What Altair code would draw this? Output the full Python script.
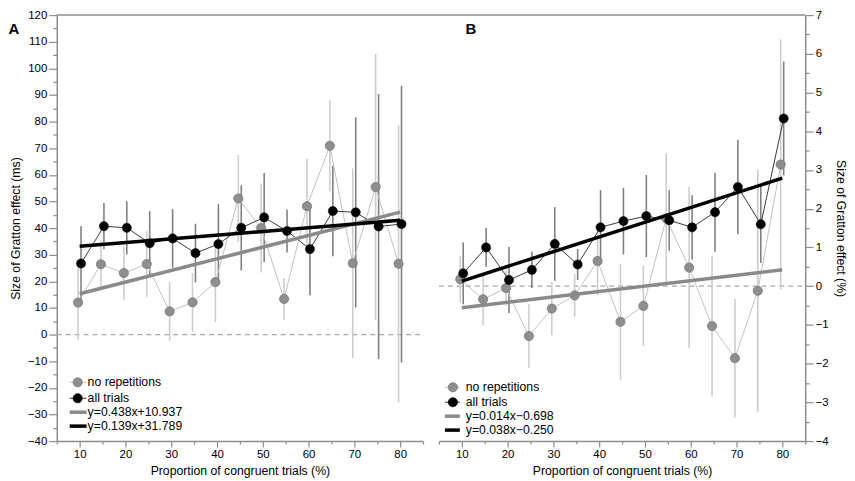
import altair as alt
import pandas as pd

# ---------------- data ----------------
x_vals = [10, 15, 20, 25, 30, 35, 40, 45, 50, 55, 60, 65, 70, 75, 80]

# Panel A (ms)
a_norep_mean = [12.0, 26.4, 23.1, 26.5, 8.7, 12.1, 19.7, 51.1, 40.0, 13.4, 48.2, 70.9, 26.8, 55.4, 26.6]
a_norep_err = [14.0, 9.0, 10.0, 12.3, 11.0, 11.0, 15.0, 16.3, 16.7, 7.8, 17.7, 17.1, 35.6, 50.0, 52.0]
a_all_mean = [26.7, 40.7, 40.1, 34.3, 36.1, 30.6, 34.0, 40.1, 44.0, 38.9, 32.1, 46.4, 45.9, 40.6, 41.5]
a_all_err = [14.0, 8.7, 10.0, 12.0, 11.0, 11.0, 15.0, 16.0, 16.7, 8.1, 17.3, 17.0, 35.7, 49.8, 52.0]

# Panel B (%)
b_norep_mean = [0.18, -0.34, -0.05, -1.29, -0.58, -0.24, 0.65, -0.92, -0.51, 1.75, 0.48, -1.03, -1.86, -0.12, 3.14]
b_norep_err = [0.60, 0.67, 0.45, 0.82, 0.69, 0.55, 0.88, 1.50, 1.04, 1.68, 2.08, 1.82, 1.53, 3.13, 3.23]
b_all_mean = [0.33, 1.00, 0.16, 0.42, 1.09, 0.56, 1.52, 1.68, 1.81, 1.70, 1.52, 1.91, 2.56, 1.60, 4.33]
b_all_err = [0.80, 0.50, 0.85, 0.47, 0.95, 0.40, 0.96, 0.86, 1.06, 0.78, 0.83, 1.02, 1.22, 1.00, 1.47]

# regression lines (slope, intercept) as printed in the legends
a_fit_norep = (0.438, 10.937)
a_fit_all = (0.139, 31.789)
b_fit_norep = (0.014, -0.698)
b_fit_all = (0.038, -0.250)
fit_range = [10, 80]

a_labels = ["no repetitions", "all trials", "y=0.438x+10.937", "y=0.139x+31.789"]
b_labels = ["no repetitions", "all trials", "y=0.014x\u22120.698", "y=0.038x\u22120.250"]

x_ticks = list(range(5, 90, 5))
a_y_ticks = list(range(-40, 125, 5))
b_y_ticks = [v / 2 for v in range(-8, 15)]

# ---------------- styling ----------------
FONT = "Liberation Sans"
W, H, GAP = 368, 428, 16
PT_SIZE = 85
AXIS_COLOR = "#8c8c8c"
GRAY_PT, GRAY_PT_STROKE = "#8e8e8e", "#707070"
GRAY_LINE, GRAY_ERR = "#c2c2c2", "#cdcdcd"
BLACK_LINE, BLACK_ERR = "#3a3a3a", "#808080"
GRAY_FIT, BLACK_FIT = "#8a8a8a", "#000000"
NOREP_DX, ALL_DX = -0.35, 0.3


def series_df(mean, err, dx):
    return pd.DataFrame({
        "x": [v + dx for v in x_vals],
        "y": mean,
        "lo": [m - e for m, e in zip(mean, err)],
        "hi": [m + e for m, e in zip(mean, err)],
    })


def fit_df(fit):
    s, b = fit
    return pd.DataFrame({"x": fit_range, "y": [s * v + b for v in fit_range]})


def x_enc():
    return alt.X(
        "x:Q",
        scale=alt.Scale(domain=[5, 85], nice=False, zero=False),
        axis=alt.Axis(
            values=x_ticks,
            labelExpr="datum.value % 10 == 0 && datum.value >= 10 && datum.value <= 80 ? datum.label : ''",
            tickSize={"condition": {"test": "datum.value % 10 != 0", "value": 3}, "value": 6},
            grid=False, domainColor=AXIS_COLOR, domainWidth=1.5, tickColor=AXIS_COLOR, tickWidth=1.2,
            labelColor="#000000", labelFont=FONT, labelFontSize=11.5, labelPadding=2,
            title="Proportion of congruent trials (%)", titleFont=FONT, titleFontSize=12.3,
            titleFontWeight="normal", titleColor="#000000", titlePadding=4,
        ),
    )


def y_enc(field, domain, ticks, orient, title, fmt, test):
    return alt.Y(
        field,
        type="quantitative",
        scale=alt.Scale(domain=domain, nice=False, zero=False),
        axis=alt.Axis(
            orient=orient, values=ticks, format=fmt,
            labelExpr=f"{test} ? datum.label : ''",
            tickSize={"condition": {"test": f"!({test})", "value": 4}, "value": 8},
            grid=False, domainColor=AXIS_COLOR, domainWidth=1.5, tickColor=AXIS_COLOR, tickWidth=1.2,
            labelColor="#000000", labelFont=FONT, labelFontSize=11.5, labelPadding=2,
            title=title, titleFont=FONT, titleFontSize=12.3, titleFontWeight="normal",
            titleColor="#000000", titlePadding=5,
        ),
    )


def panel(norep_mean, norep_err, all_mean, all_err, fit_norep, fit_all, ydom, yticks,
          orient, ytitle, fmt, test, letter, letter_x, labels, leg, top_line):
    Y = lambda f: y_enc(f, ydom, yticks, orient, ytitle, fmt, test)
    nr = series_df(norep_mean, norep_err, NOREP_DX)
    al = series_df(all_mean, all_err, ALL_DX)
    one = pd.DataFrame({"k": [0]})
    zero = pd.DataFrame({"y": [0]})

    layers = []
    if top_line:
        layers.append(alt.Chart(one).mark_rule(color=AXIS_COLOR, strokeWidth=1.5).encode(
            x=alt.value(0), x2=alt.value(W + GAP + W), y=alt.value(0)))
    layers.append(alt.Chart(zero).mark_rule(color="#a8a8a8", strokeWidth=1.2, strokeDash=[5, 4]).encode(
        y=Y("y"), x=alt.value(0), x2=alt.value(W)))
    layers.append(alt.Chart(nr).mark_rule(color=GRAY_ERR, strokeWidth=1.6).encode(
        x=x_enc(), y=Y("lo"), y2="hi"))
    layers.append(alt.Chart(al).mark_rule(color=BLACK_ERR, strokeWidth=1.6).encode(
        x=x_enc(), y=Y("lo"), y2="hi"))
    layers.append(alt.Chart(nr).mark_line(color=GRAY_LINE, strokeWidth=1).encode(x=x_enc(), y=Y("y")))
    layers.append(alt.Chart(al).mark_line(color=BLACK_LINE, strokeWidth=1).encode(x=x_enc(), y=Y("y")))
    layers.append(alt.Chart(nr).mark_point(shape="circle", filled=True, size=PT_SIZE, fill=GRAY_PT,
                                           stroke=GRAY_PT_STROKE, strokeWidth=0.7, opacity=1).encode(
        x=x_enc(), y=Y("y")))
    layers.append(alt.Chart(fit_df(fit_norep)).mark_line(color=GRAY_FIT, strokeWidth=3.5).encode(
        x=x_enc(), y=Y("y")))
    layers.append(alt.Chart(fit_df(fit_all)).mark_line(color=BLACK_FIT, strokeWidth=3.5).encode(
        x=x_enc(), y=Y("y")))
    layers.append(alt.Chart(al).mark_point(shape="circle", filled=True, size=PT_SIZE, fill="#000000",
                                           stroke="#000000", strokeWidth=0.5, opacity=1).encode(
        x=x_enc(), y=Y("y")))

    # legend (inside plot, lower left)
    lx0, lx1, lxc, lxt, lys = leg
    styles = [("pt", GRAY_LINE, GRAY_PT, GRAY_PT_STROKE), ("pt", BLACK_LINE, "#000000", "#000000"),
              ("ln", GRAY_FIT, None, None), ("ln", BLACK_FIT, None, None)]
    for (kind, lcol, fcol, scol), lab, ly in zip(styles, labels, lys):
        if kind == "pt":
            layers.append(alt.Chart(one).mark_rule(color=lcol, strokeWidth=1).encode(
                x=alt.value(lx0), x2=alt.value(lx1), y=alt.value(ly)))
            layers.append(alt.Chart(one).mark_point(shape="circle", filled=True, size=PT_SIZE, fill=fcol,
                                                    stroke=scol, strokeWidth=0.7, opacity=1).encode(
                x=alt.value(lxc), y=alt.value(ly)))
        else:
            layers.append(alt.Chart(one).mark_rule(color=lcol, strokeWidth=3.5).encode(
                x=alt.value(lx0), x2=alt.value(lx1), y=alt.value(ly)))
        layers.append(alt.Chart(one).mark_text(text=lab, align="left", baseline="middle",
                                               font=FONT, fontSize=12.3, color="#000000").encode(
            x=alt.value(lxt), y=alt.value(ly)))

    layers.append(alt.Chart(one).mark_text(text=letter, align="center", baseline="middle", font=FONT,
                                           fontSize=15, fontWeight="bold", color="#000000").encode(
        x=alt.value(letter_x), y=alt.value(14)))

    return alt.layer(*layers).properties(width=W, height=H)


panel_a = panel(a_norep_mean, a_norep_err, a_all_mean, a_all_err, a_fit_norep, a_fit_all,
                [-40, 120], a_y_ticks, "left", "Size of Gratton effect (ms)", "d",
                "datum.value % 10 == 0", "A", -43,
                a_labels, (13, 30, 21, 31, [H - 59, H - 43, H - 29, H - 15]), True)

panel_b = panel(b_norep_mean, b_norep_err, b_all_mean, b_all_err, b_fit_norep, b_fit_all,
                [-4, 7], b_y_ticks, "right", "Size of Gratton effect (%)", ".0f",
                "datum.value % 1 == 0", "B", 32,
                b_labels, (6, 21, 14, 27, [H - 54, H - 39, H - 25, H - 11]), False)

chart = alt.hconcat(panel_a, panel_b, spacing=GAP, bounds="flush").properties(
    padding=0
).configure_view(stroke=None)

chart.save("out.html", embed_options={"renderer": "svg", "actions": False})
